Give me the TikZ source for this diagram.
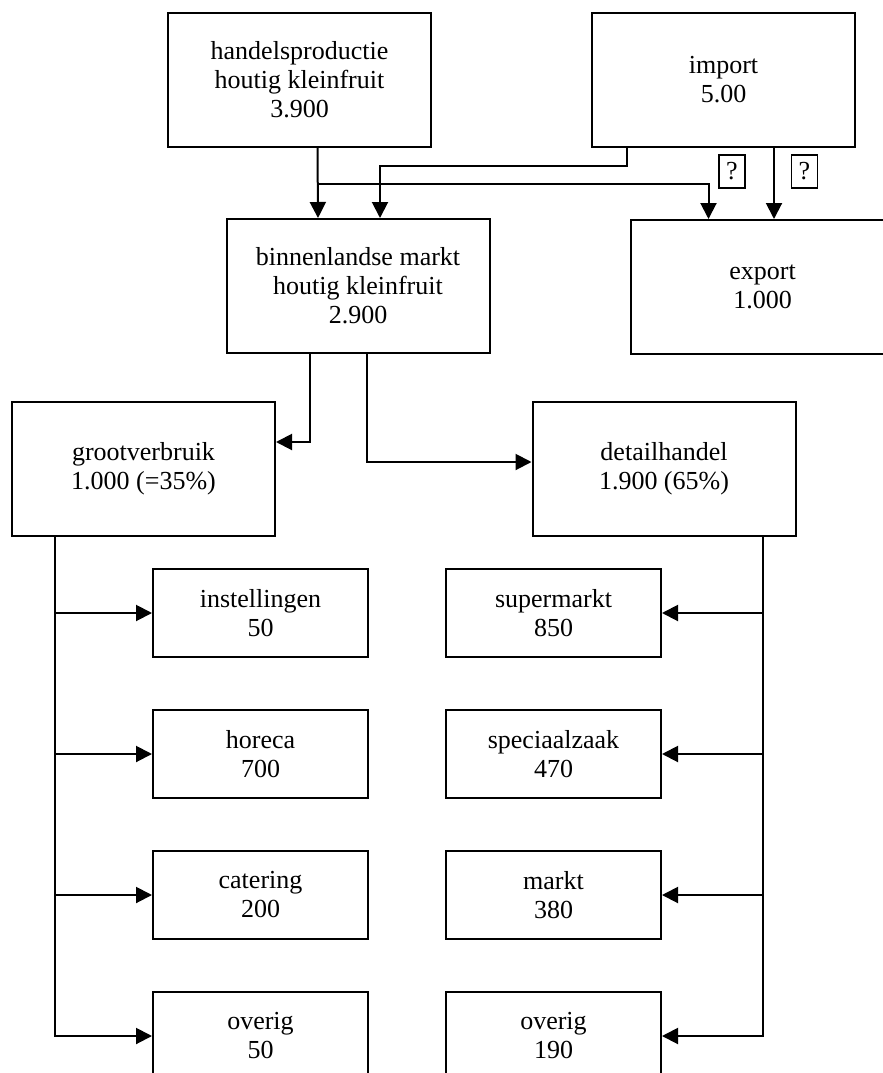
\documentclass[tikz,border=0pt]{standalone}
\usepackage{fontspec}
\setmainfont{Liberation Serif}
\usepackage{tikz}
\usetikzlibrary{calc, arrows.meta}

\tikzset{
	bigbox/.style = {draw, line width = 2pt, minimum width = 263pt, minimum height = 134pt, align = center, inner sep = 0pt, font = \fontsize{26}{29}\selectfont},
	smallbox/.style = {draw, line width = 2pt, minimum width = 215pt, minimum height = 88pt, align = center, inner sep = 0pt, font = \fontsize{26}{29}\selectfont},
	query/.style = {draw, line width = 1.4pt, minimum width = 26pt, minimum height = 33pt, inner sep = 0pt, font = \fontsize{26}{29}\selectfont},
	flow/.style = {line width = 2pt, -{Triangle[length = 16pt, width = 16pt]}},
}

\begin{document}
\begin{tikzpicture}[x = 1pt, y = -1pt]
			\def\W{883};
			\def\H{1073};
			\def\lx{260.5};
			\def\rx{553.5};

			\useasboundingbox (0,0) rectangle (\W,\H);
			\clip (0,0) rectangle (\W,\H);

			\begin{scope}
				\node [bigbox] (handels) at (299.5,80) {handelsproductie\\houtig kleinfruit\\3.900};
				\node [bigbox] (import) at (723.5,80) {import\\5.00};
				\node [bigbox] (binn) at (358,286) {binnenlandse markt\\houtig kleinfruit\\2.900};
				\node [bigbox] (export) at (762.5,287) {export\\1.000};
				\node [bigbox] (groot) at (143.5,469) {grootverbruik\\1.000 (=35\%)};
				\node [bigbox] (detail) at (664,469) {detailhandel\\1.900 (65\%)};
			\end{scope}

			\begin{scope}
				\node [smallbox] (inst) at (\lx,613) {instellingen\\50};
				\node [smallbox] (horeca) at (\lx,754) {horeca\\700};
				\node [smallbox] (catering) at (\lx,895) {catering\\200};
				\node [smallbox] (ov left) at (\lx,1036) {overig\\50};

				\node [smallbox] (super) at (\rx,613) {supermarkt\\850};
				\node [smallbox] (speciaal) at (\rx,754) {speciaalzaak\\470};
				\node [smallbox] (markt) at (\rx,895) {markt\\380};
				\node [smallbox] (ov right) at (\rx,1036) {overig\\190};
			\end{scope}

			\node [query] (q one) at (732,171.5) {?};
			\node [query] (q two) at (804.5,171.5) {?};

			\begin{scope}
				\draw [flow] ([xshift = 18pt]handels.south) -- ([xshift = -40pt]binn.north);
				\draw [flow] ([xshift = 18pt]handels.south) ++(0,36) -| ([xshift = -54pt]export.north);
				\draw [flow] ([xshift = -96.5pt]import.south) -- ++(0,18) -| ([xshift = 22pt]binn.north);
				\draw [flow] ([xshift = 11.5pt]export.north |- import.south) -- ([xshift = 11.5pt]export.north);

				\draw [flow] ([xshift = -48pt]binn.south) |- ([yshift = 27pt]groot.east);
				\draw [flow] ([xshift = 9pt]binn.south) |- ([yshift = 7pt]detail.west);
			\end{scope}

			\coordinate (left trunk) at ([xshift = -88.5pt]groot.south);
			\coordinate (right trunk) at ([xshift = 99pt]detail.south);

			\draw [flow] (left trunk) |- (ov left.west);
			\draw [flow] (right trunk) |- (ov right.east);
			\foreach \b in {inst, horeca, catering}
				\draw [flow] (left trunk |- \b.west) -- (\b.west);
			\foreach \b in {super, speciaal, markt}
				\draw [flow] (right trunk |- \b.east) -- (\b.east);
		\end{tikzpicture}
\end{document}
